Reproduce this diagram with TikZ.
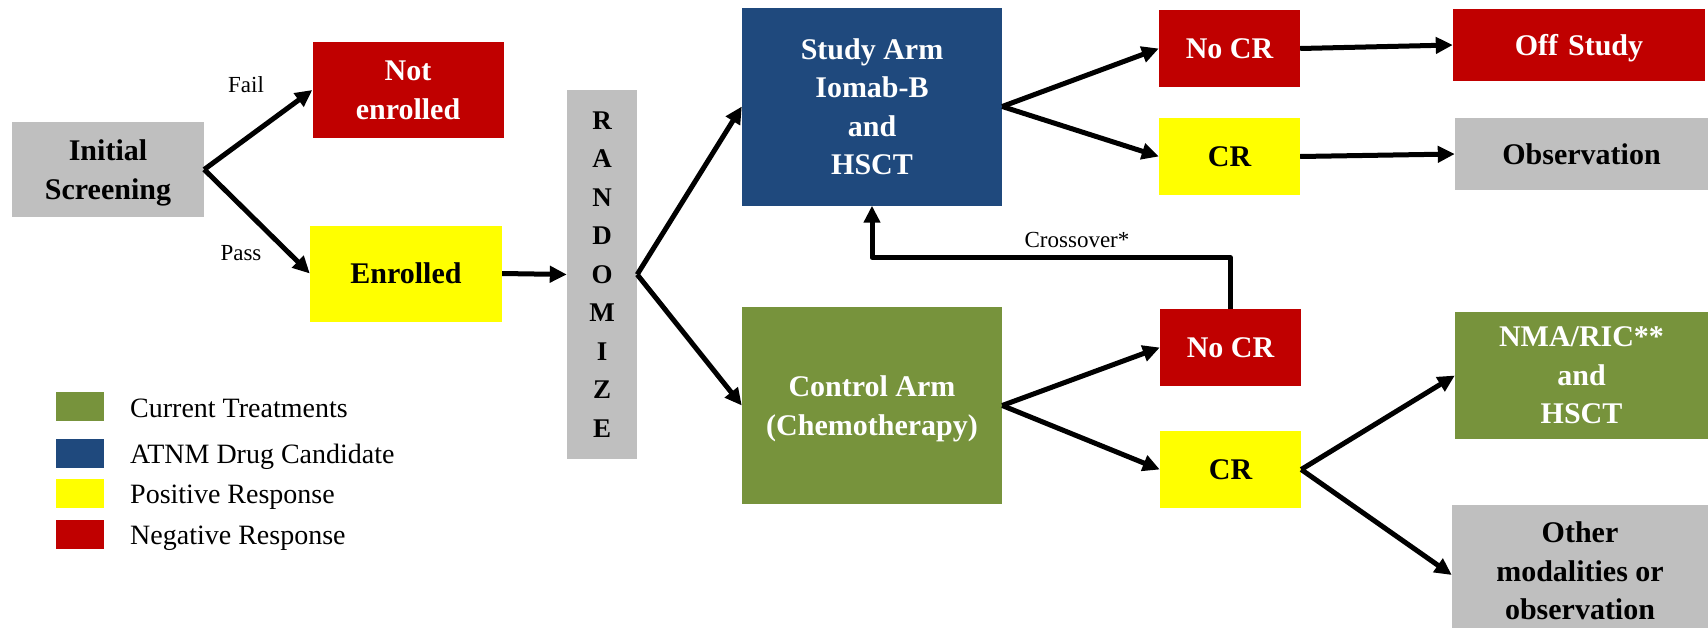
\documentclass[tikz,border=0pt]{standalone}
\usepackage{fontspec}
\setmainfont{Liberation Serif}
\usetikzlibrary{arrows.meta,calc}
\definecolor{cred}{HTML}{C00000}
\definecolor{cyel}{HTML}{FFFF00}
\definecolor{cgray}{HTML}{BFBFBF}
\definecolor{cblue}{HTML}{1F497D}
\definecolor{cgreen}{HTML}{77933C}
\tikzset{
  box/.style={rectangle, inner sep=0pt, align=center, text depth=-2pt, font=\fontsize{30}{38.5}\selectfont\bfseries},
  redbox/.style={box, fill=cred, text=white},
  yelbox/.style={box, fill=cyel, text=black},
  graybox/.style={box, fill=cgray, text=black},
  bluebox/.style={box, fill=cblue, text=white},
  greenbox/.style={box, fill=cgreen, text=white},
  arr/.style={line width=5pt, line join=round, -{Triangle[length=17pt,width=16pt]}},
  lbl/.style={anchor=base, font=\fontsize{23}{26}\selectfont, inner sep=0pt},
  legsq/.style={rectangle, inner sep=0pt, minimum width=48pt, minimum height=29pt},
  legtxt/.style={anchor=base west, inner sep=0pt, font=\fontsize{28}{32}\selectfont}
}
\begin{document}
\begin{tikzpicture}[x=1pt,y=-1pt]
\useasboundingbox (0,0) rectangle (1708,627);
% boxes
\node[graybox, minimum width=192pt, minimum height=95pt] (init) at (108,169.5) {Initial\\Screening};
\node[redbox, minimum width=191pt, minimum height=96pt] (notenr) at (408,90) {Not\\enrolled};
\node[yelbox, minimum width=192pt, minimum height=96pt] (enr) at (406,273.5) {Enrolled};
\node[graybox, minimum width=70pt, minimum height=369pt, text depth=0pt, font=\fontsize{27}{38.5}\selectfont\bfseries] (rand) at (602,274.5) {R\\A\\N\\D\\O\\M\\I\\Z\\E};
\node[bluebox, minimum width=260pt, minimum height=198pt] (study) at (872,106.5) {Study Arm\\Iomab-B\\and\\HSCT};
\node[greenbox, minimum width=260pt, minimum height=197pt] (control) at (872,405.5) {Control Arm\\(Chemotherapy)};
\node[redbox, minimum width=141pt, minimum height=77pt] (nocra) at (1229.5,48.5) {No CR};
\node[yelbox, minimum width=141pt, minimum height=77pt] (cra) at (1229.5,156.5) {CR};
\node[redbox, minimum width=252pt, minimum height=72pt] (off) at (1579,45) {Off\,\,Study};
\node[graybox, minimum width=253pt, minimum height=72pt] (obs) at (1581.5,154) {Observation};
\node[redbox, minimum width=141pt, minimum height=77pt] (nocrb) at (1230.5,347.5) {No CR};
\node[yelbox, minimum width=141pt, minimum height=77pt] (crb) at (1230.5,469.5) {CR};
\node[greenbox, minimum width=253pt, minimum height=127pt] (nma) at (1581.5,375.5) {NMA/RIC**\\and\\HSCT};
\node[graybox, minimum width=256pt, minimum height=132pt] (other) at (1580,571) {Other\\modalities or\\observation};
% connectors
\draw[arr] (init.east) -- (notenr.west);
\draw[arr] (init.east) -- (enr.west);
\draw[arr] (enr.east) -- (rand.west);
\draw[arr] (rand.east) -- (study.west);
\draw[arr] (rand.east) -- (control.west);
\draw[arr] (study.east) -- (nocra.west);
\draw[arr] (study.east) -- (cra.west);
\draw[arr] (nocra.east) -- (off.west);
\draw[arr] (cra.east) -- (obs.west);
\draw[arr] (control.east) -- (nocrb.west);
\draw[arr] (control.east) -- (crb.west);
\draw[arr] (crb.east) -- (nma.west);
\draw[arr] (crb.east) -- ([yshift=-4pt]other.west);
\draw[arr] (nocrb.north) |- ($(study.south)+(0,52)$) -- (study.south);
% labels
\node[lbl] (fail) at (246,92) {Fail};
\node[lbl] (pass) at (241,260) {Pass};
\node[lbl] (cross) at (1077,247) {Crossover*};
% legend
\node[legsq, fill=cgreen] (lg1) at (80,406.5) {};
\node[legsq, fill=cblue] (lg2) at (80,453.5) {};
\node[legsq, fill=cyel] (lg3) at (80,493.5) {};
\node[legsq, fill=cred] (lg4) at (80,534.5) {};
\node[legtxt] (lt1) at (130,417) {Current Treatments};
\node[legtxt] (lt2) at (130,463) {ATNM Drug Candidate};
\node[legtxt] (lt3) at (130,503) {Positive Response};
\node[legtxt] (lt4) at (130,544) {Negative Response};
\end{tikzpicture}
\end{document}
